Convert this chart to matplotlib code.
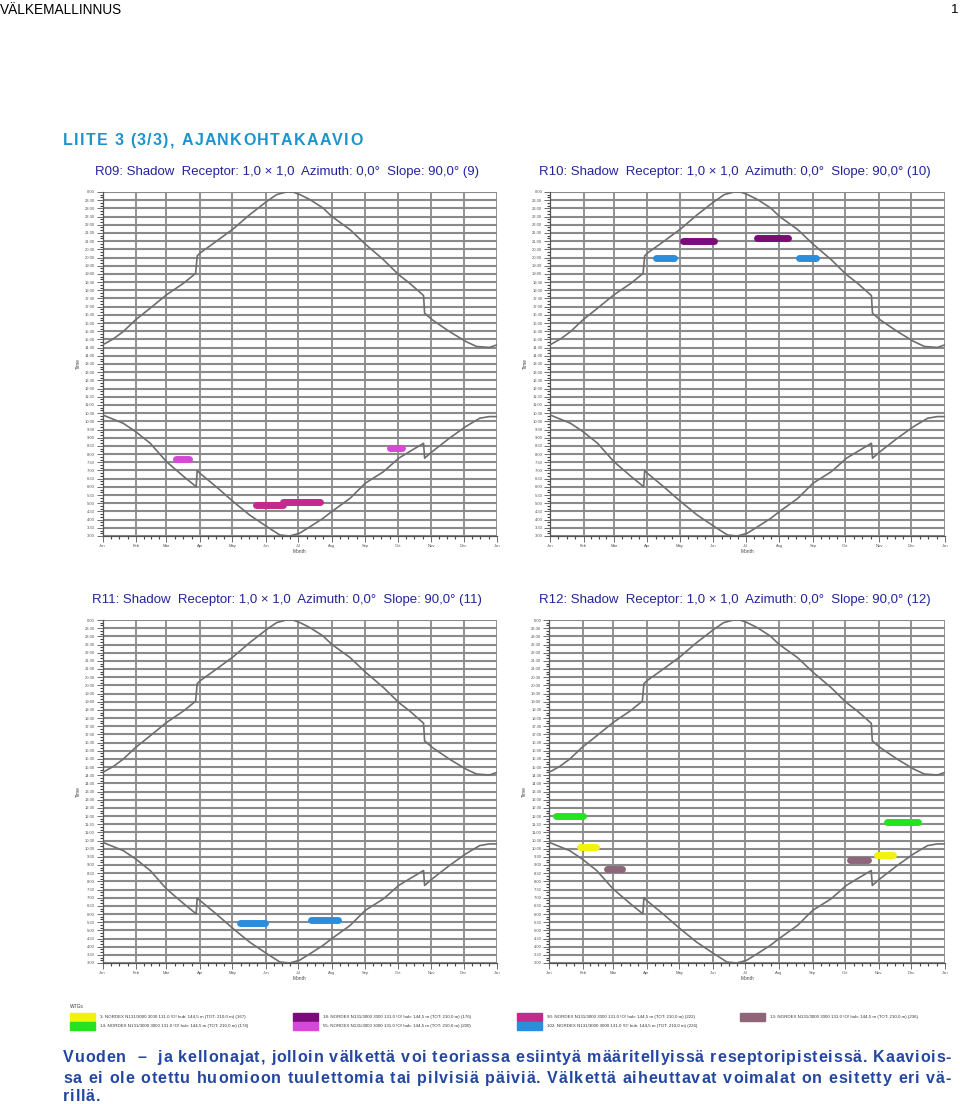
import numpy as np
import matplotlib
matplotlib.use('Agg')
import matplotlib.pyplot as plt
from matplotlib.font_manager import FontProperties, findfont, get_font

plt.rcParams['font.family'] = ['Liberation Sans', 'DejaVu Sans']

# --- data ----------------------------------------------------------------
month_names = ['Jan', 'Feb', 'Mar', 'Apr', 'May', 'Jun', 'Jul', 'Aug',
               'Sep', 'Oct', 'Nov', 'Dec', 'Jan']
month_start = [0, 31, 59, 90, 120, 151, 181, 212, 243, 273, 304, 334, 365]

# sunset (upper curve), day of year / clock hour
sunset_day = [0, 10, 19, 30.5, 44, 59, 75, 86, 87.5, 90, 105, 121, 136, 152,
              161, 170, 176, 182, 192, 204, 212, 229, 243, 260, 274, 284,
              297, 298, 305, 321, 336, 346, 358, 365]
sunset_hour = [14.67, 15.04, 15.48, 16.2, 16.91, 17.72, 18.44, 19.03, 20.1,
               20.27, 20.98, 21.76, 22.61, 23.43, 23.84, 24.0, 24.0, 23.86,
               23.53, 23.02, 22.51, 21.7, 20.82, 19.86, 18.95, 18.44, 17.68,
               16.6, 16.2, 15.48, 14.88, 14.57, 14.51, 14.67]

# sunrise (lower curve)
sunrise_day = [0, 19, 30.5, 44, 59, 75, 86.5, 87.5, 90, 105, 121, 136, 152,
               164, 173, 182, 192, 204, 212, 229, 243, 260, 274, 284, 297,
               298, 305, 321, 336, 349, 358, 365]
sunrise_hour = [10.39, 9.88, 9.37, 8.66, 7.54, 6.63, 6.01, 6.99, 6.83, 6.01,
                5.09, 4.28, 3.57, 3.06, 3.0, 3.16, 3.57, 4.08, 4.49, 5.3,
                6.22, 6.93, 7.75, 8.15, 8.66, 7.75, 8.15, 8.97, 9.68, 10.19,
                10.29, 10.29]

receptors = ['R09', 'R10', 'R11', 'R12']
receptor_no = [9, 10, 11, 12]

# flicker periods per receptor: turbine, first day, last day, clock hour
blob_receptor = ['R09', 'R09', 'R09', 'R09',
                 'R10', 'R10', 'R10', 'R10',
                 'R11', 'R11',
                 'R12', 'R12', 'R12', 'R12', 'R12', 'R12']
blob_wtg = [55, 55, 90, 90,
            102, 102, 18, 18,
            102, 102,
            14, 3, 13, 13, 3, 14]
blob_from = [68, 266, 142, 167,
             98, 230, 123, 191,
             127, 193,
             6, 29, 53, 277, 302, 312]
blob_to = [80, 277, 167, 201,
           115, 246, 152, 220,
           150, 218,
           31, 43, 67, 294, 317, 340]
blob_hour = [7.72, 8.39, 4.87, 5.08,
             20.0, 20.0, 21.02, 21.2,
             5.45, 5.65,
             12.02, 10.08, 8.76, 9.31, 9.61, 11.65]

wtg_no = [3, 14, 18, 55, 90, 102, 13]
wtg_count = [167, 174, 176, 200, 222, 226, 236]
wtg_color = ['#f2f20c', '#24e41e', '#7a0c7a', '#d848d8', '#c42a8c',
             '#2a8ee0', '#8e6579']

caption = ['Vuoden  –  ja kellonajat, jolloin välkettä voi teoriassa esiintyä '
           'määritellyissä reseptoripisteissä. Kaaviois-',
           'sa ei ole otettu huomioon tuulettomia tai pilvisiä päiviä. '
           'Välkettä aiheuttavat voimalat on esitetty eri vä-',
           'rillä.']

# --- figure ----------------------------------------------------------------
W, H = 960, 1104
fig = plt.figure(figsize=(W / 100, H / 100), dpi=100)


def fx(px):
    return px / W


def fy(py):
    return 1 - py / H


def fit_text(x, y, s, width_px, **kw):
    t = fig.text(fx(x), fy(y), s, va='center', ha='left', **kw)
    r = fig.canvas.get_renderer()
    w = t.get_window_extent(renderer=r).width
    t.set_fontsize(t.get_fontsize() * width_px / w)
    return t


def advances(s, size, weight):
    font = get_font(findfont(FontProperties(family='Liberation Sans',
                                            weight=weight)))
    font.set_size(size, 100)
    return [font.load_char(ord(c)).linearHoriAdvance / 65536 for c in s]


def spaced_text(x, y, s, size, weight, color, width_px=None, track=None):
    # y is the baseline
    adv = advances(s, size, weight)
    if track is None:
        track = (width_px - sum(adv[:-1]) - adv[-1] * 0.8) / (len(s) - 1)
    cx = x
    for c, a in zip(s, adv):
        if c != ' ':
            fig.text(fx(cx), fy(y), c, fontsize=size, fontweight=weight,
                     color=color, va='baseline', ha='left')
        cx += a + track
    return track


fig.text(fx(0), fy(10), 'VÄLKEMALLINNUS', fontsize=9.8, va='center')
fig.text(fx(958), fy(10), '1', fontsize=9.5, va='center', ha='right')
spaced_text(63, 145, 'LIITE 3 (3/3), AJANKOHTAKAAVIO', 11.5, 'bold',
            '#1b93cf', width_px=297)

panel_box = {'R09': (102.7, 192, 497, 536), 'R10': (550, 192, 945, 536),
             'R11': (102.7, 620, 497, 963), 'R12': (549, 620, 945, 963)}
title_pos = {'R09': (95, 172), 'R10': (539, 172),
             'R11': (92, 600), 'R12': (539, 600)}

col = {w: c for w, c in zip(wtg_no, wtg_color)}
yt = np.arange(3, 24.01, 0.5)
ylab = ['%d:%02d' % (int(v) % 24, 30 if v % 1 else 0) for v in yt]
minor_x = [a + (b - a) * f for a, b in zip(month_start[:-1], month_start[1:])
           for f in (0.25, 0.5, 0.75)]

for rec, no in zip(receptors, receptor_no):
    l, t, r, b = panel_box[rec]
    ax = fig.add_axes([fx(l), fy(b), fx(r - l), (b - t) / H])
    ax.set_xlim(0, 365)
    ax.set_ylim(3, 24)
    ax.set_yticks(yt)
    ax.set_yticklabels(ylab)
    ax.set_yticks(np.arange(3, 24.01, 1 / 6), minor=True)
    ax.set_xticks(month_start)
    ax.set_xticklabels(month_names)
    ax.set_xticks(minor_x, minor=True)
    ax.yaxis.grid(True, color='#8a8a8a', lw=1.5)
    ax.xaxis.grid(True, color='#8a8a8a', lw=1.3)
    ax.set_axisbelow(True)
    for s in ('top', 'right'):
        ax.spines[s].set_visible(False)
    for s in ('left', 'bottom'):
        ax.spines[s].set_color('#555555')
        ax.spines[s].set_linewidth(0.9)
    ax.tick_params(axis='both', which='major', length=4, width=0.6,
                   labelsize=3, pad=1.5, colors='#555555')
    ax.tick_params(axis='both', which='minor', length=2.5, width=0.8,
                   colors='#444444')
    ax.set_ylabel('Time', fontsize=3.5, labelpad=3, color='#444444')
    ax.set_xlabel('Month', fontsize=3.5, labelpad=1, color='#444444')

    ax.plot(sunset_day, sunset_hour, color='#6e6e6e', lw=1.2, zorder=3)
    ax.plot(sunrise_day, sunrise_hour, color='#6e6e6e', lw=1.2, zorder=3)

    for br, w, d0, d1, h in zip(blob_receptor, blob_wtg, blob_from, blob_to,
                                blob_hour):
        if br == rec:
            ax.plot([d0, d1], [h, h], color=col[w], lw=5,
                    solid_capstyle='round', zorder=4)

    tx, ty = title_pos[rec]
    fit_text(tx, ty, '%s: Shadow  Receptor: 1,0 × 1,0  Azimuth: 0,0°  '
             'Slope: 90,0° (%d)' % (rec, no), 384 if no < 10 else 392,
             fontsize=10, color='#24249a')

# --- legend ----------------------------------------------------------------
fig.text(fx(70), fy(1006), 'WTGs', fontsize=3.5, va='center', color='#333333')
leg_x = [70, 293, 517, 740]
leg_y = [1017, 1026]
for i, (w, n, c) in enumerate(zip(wtg_no, wtg_count, wtg_color)):
    cx, ry = leg_x[i // 2], leg_y[i % 2]
    fig.patches.append(plt.Rectangle((fx(cx), fy(ry + 4)), fx(25), 8 / H,
                                     transform=fig.transFigure, color=c))
    fig.text(fx(cx + 30), fy(ry), '%d: NORDEX N131/3000 3000 131.0 !O! hub: '
             '144,5 m (TOT: 210,0 m) (%d)' % (w, n),
             fontsize=3.2, va='center', color='#333333')

# --- caption (letter-spaced, as in the source document) ---------------------
cap_color = '#2346a0'
tr = spaced_text(63, 1062, caption[0], 11.5, 'bold', cap_color, width_px=887)
spaced_text(63, 1083, caption[1], 11.5, 'bold', cap_color, width_px=887)
spaced_text(63, 1101, caption[2], 11.5, 'bold', cap_color, track=tr)

fig.savefig('out.png', dpi=100)
